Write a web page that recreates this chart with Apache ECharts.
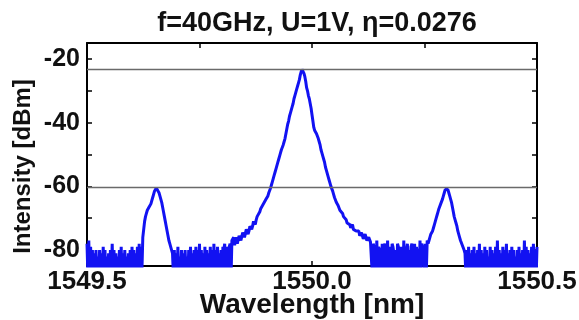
<!DOCTYPE html>
<html>
<head>
<meta charset="utf-8">
<script src="https://cdn.jsdelivr.net/npm/echarts@6/dist/echarts.min.js"></script>
<style>
html,body{margin:0;padding:0;background:#fff;}
#chart{width:579px;height:320px;}
</style>
</head>
<body>
<div id="chart"></div>
<script>
// Spectrum sampling grid (OSA step) in nm
const wlStart = 1549.5;
const wlStep = 0.002;
// Measured intensity [dBm] at each grid point (values below -85 fall off the axis)
const intensity = [
  -78,-88,-77,-90,-79,-87,-80,-91,-81,-88,
  -80,-92,-82,-87,-80,-89,-81,-90,-79,-88,
  -80,-91,-82,-87,-81,-90,-80,-88,-78,-89,
  -80,-92,-81,-87,-82,-90,-80,-88,-79,-91,
  -81,-87,-80,-89,-82,-90,-81,-88,-80,-92,
  -79,-87,-80,-89,-81,-90,-79,-88,-78,-91,
  -79,-87,-76,-73.5,-71,-69.5,-68.5,-67.5,-67,-66.5,
  -66,-65.5,-64.5,-63.5,-62.5,-61.5,-61,-60.5,-60.5,-61,
  -62,-63,-64,-65,-66.5,-68,-69.5,-71,-72.5,-74,
  -75.5,-77,-78,-79,-80,-81,-88,-80,-90,-81,
  -87,-79,-91,-82,-88,-80,-89,-81,-92,-80,
  -87,-82,-90,-80,-88,-79,-91,-81,-87,-80,
  -89,-79,-90,-80,-88,-78,-91,-80,-87,-81,
  -90,-79,-88,-80,-92,-81,-87,-79,-89,-80,
  -90,-78,-88,-80,-91,-79,-87,-81,-89,-80,
  -90,-79,-80,-78,-91,-80,-79,-86,-79,-78,
  -89,-77,-77,-76,-78.5,-77,-76,-78,-77.5,-75.5,
  -75,-77,-76.5,-74.5,-74,-76,-75.5,-73.5,-73.5,-75,
  -74,-72.5,-72,-73.5,-72.5,-71,-71,-72,-70.5,-69.5,
  -69,-69,-68,-67,-66.5,-66,-65.5,-65,-64.5,-64,
  -63.5,-63,-62,-61.5,-60.5,-59.5,-58.5,-57.5,-56.5,-55.5,
  -54.5,-53.5,-52.5,-51.5,-50.5,-49.5,-48.5,-48,-47,-46,
  -45,-43.5,-42,-40.5,-39.5,-38,-37,-36,-35,-34,
  -32.5,-31.5,-30.5,-29.5,-28.5,-27.5,-26.5,-25,-24,-23.3,
  -23.5,-24.5,-25.5,-27,-29,-30,-31.5,-32.5,-34,-35.5,
  -37.5,-39.5,-41.5,-42.5,-43,-43.5,-44,-45,-46,-47,
  -48.5,-49.5,-50.5,-51.5,-52.5,-54,-55,-56,-57,-58,
  -59,-60,-60.5,-61.5,-62.5,-63.5,-64,-65,-65.5,-66,
  -66.5,-67.5,-68,-68,-68.5,-69.5,-70,-70,-70.5,-71.5,
  -71.5,-71,-72,-73,-72.5,-72,-73.5,-74,-73,-74,
  -74.5,-73.5,-74,-75.5,-75.5,-74.5,-75,-76.5,-76,-75,
  -75.5,-77,-77,-76,-76,-77.5,-77.5,-88,-78,-79,
  -80,-90,-77,-87,-79,-80,-81,-89,-78,-91,
  -79,-78,-80,-88,-77,-86,-79,-80,-92,-78,
  -79,-81,-88,-80,-90,-78,-79,-87,-80,-79,
  -81,-89,-77,-91,-79,-80,-78,-88,-80,-87,
  -79,-78,-80,-90,-78,-89,-79,-81,-80,-88,
  -77,-86,-78,-79,-80,-89,-78,-87,-77,-78,
  -77,-76,-75,-74.5,-74,-73,-72,-71,-70,-69,
  -68,-67,-66.5,-65.5,-65,-64,-63,-62,-61,-60.5,
  -60.5,-61,-62,-63,-64,-65,-66.5,-68,-69.5,-70.5,
  -71.5,-72.5,-74,-75,-76,-77,-77.5,-78.5,-79,-80,
  -81,-88,-80,-90,-79,-87,-81,-91,-80,-88,
  -79,-89,-81,-92,-80,-87,-78,-90,-80,-88,
  -81,-91,-79,-87,-80,-89,-82,-90,-79,-88,
  -80,-92,-81,-87,-79,-89,-77,-90,-80,-88,
  -81,-91,-79,-87,-80,-90,-78,-88,-81,-89,
  -80,-92,-79,-87,-80,-90,-82,-88,-80,-91,
  -79,-87,-81,-89,-80,-90,-77,-88,-79,-91,
  -80,-87,-81,-89,-79,-90,-78,-88,-80,-89,
  -79
];
// Reference levels (carrier and sidebands) [dBm]
const refLevels = [-23.2, -60.4];
// Axis ticks
const xTickValues = [1549.5, 1549.75, 1550.0, 1550.25, 1550.5];
const xLabelValues = [1549.5, 1550.0, 1550.5];
const yTickValues = [-80, -70, -60, -50, -40, -30, -20];
const yLabelValues = [-80, -60, -40, -20];
const titleText = 'f=40GHz, U=1V, η=0.0276';

const seriesData = intensity.map((v, i) => [wlStart + i * wlStep, v]);

const FONT = '"Liberation Sans", Arial, Helvetica, sans-serif';
const chart = echarts.init(document.getElementById('chart'), null, {renderer: 'canvas'});

const lineStyleAxis = {show: true, lineStyle: {color: '#000', width: 2}};
const tickStyle = {inside: true, length: 5, lineStyle: {color: '#000', width: 1.5}};

chart.setOption({
  animation: false,
  backgroundColor: '#fff',
  title: {
    text: titleText,
    left: 312,
    textAlign: 'center',
    top: 5,
    textStyle: {fontFamily: FONT, fontWeight: 'bold', fontSize: 27, color: '#111'}
  },
  grid: {left: 87, right: 42, top: 43, bottom: 54, containLabel: false, outerBoundsMode: 'none'},
  xAxis: [
    {
      type: 'value', min: 1549.5, max: 1550.5, position: 'bottom',
      name: 'Wavelength [nm]', nameLocation: 'middle', nameGap: 25, nameMoveOverlap: false,
      nameTextStyle: {fontFamily: FONT, fontWeight: 'bold', fontSize: 28, color: '#111'},
      axisLine: lineStyleAxis,
      axisTick: Object.assign({customValues: xTickValues}, tickStyle),
      axisLabel: {customValues: xLabelValues, margin: 3, fontFamily: FONT, fontWeight: 'bold', fontSize: 26, color: '#111',
        formatter: v => v.toFixed(1)},
      splitLine: {show: false}
    },
    {
      type: 'value', min: 1549.5, max: 1550.5, position: 'top',
      axisLine: lineStyleAxis,
      axisTick: Object.assign({customValues: xTickValues}, tickStyle),
      axisLabel: {show: false},
      splitLine: {show: false}
    }
  ],
  yAxis: [
    {
      type: 'value', min: -85, max: -15, position: 'left',
      name: 'Intensity [dBm]', nameLocation: 'middle', nameGap: 52, nameMoveOverlap: false,
      nameTextStyle: {fontFamily: FONT, fontWeight: 'bold', fontSize: 24, color: '#111', padding: [0, 24, 0, 0]},
      axisLine: lineStyleAxis,
      axisTick: Object.assign({customValues: yTickValues}, tickStyle),
      axisLabel: {customValues: yLabelValues, margin: 7, fontFamily: FONT, fontWeight: 'bold', fontSize: 25, color: '#111'},
      splitLine: {show: false}
    },
    {
      type: 'value', min: -85, max: -15, position: 'right',
      axisLine: lineStyleAxis,
      axisTick: Object.assign({customValues: yTickValues}, tickStyle),
      axisLabel: {show: false},
      splitLine: {show: false}
    }
  ],
  series: [
    {
      type: 'line',
      xAxisIndex: 0, yAxisIndex: 0,
      data: seriesData,
      showSymbol: false,
      clip: true,
      lineStyle: {color: '#1212f2', width: 3},
      itemStyle: {color: '#1212f2'},
      markLine: {
        silent: true,
        symbol: ['none', 'none'],
        label: {show: false},
        lineStyle: {color: '#6a6a6a', width: 1.3, type: 'solid'},
        data: refLevels.map(v => ({yAxis: v}))
      },
      z: 3
    }
  ]
});
</script>
</body>
</html>
